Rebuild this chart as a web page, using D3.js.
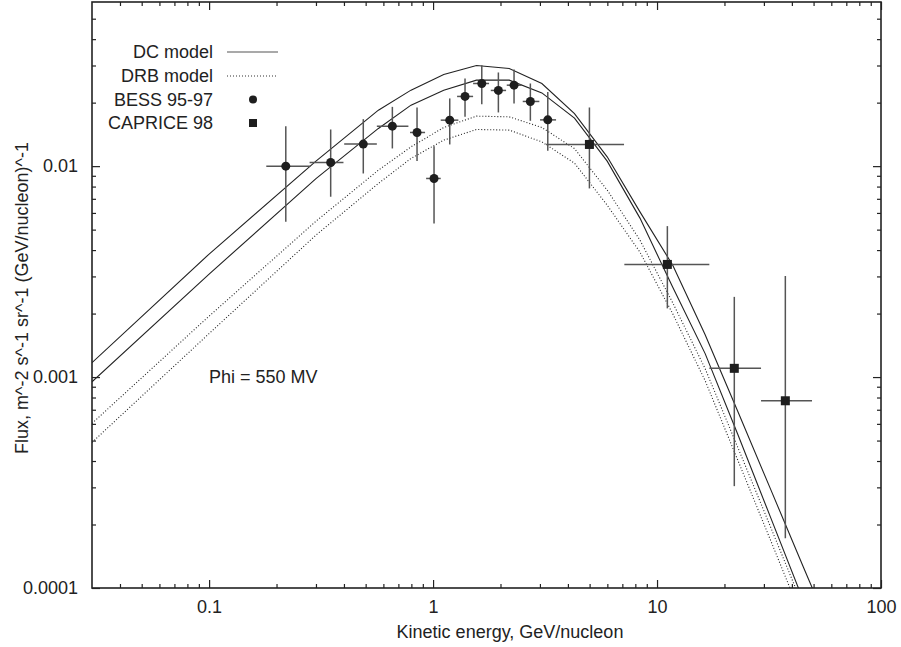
<!DOCTYPE html>
<html>
<head>
<meta charset="utf-8">
<script src="https://cdn.jsdelivr.net/npm/d3@7"></script>
<style>
  html, body { margin: 0; padding: 0; background: #fff; }
  svg text { font-family: "Liberation Sans", Arial, Helvetica, sans-serif; font-size: 18px; fill: #222; }
</style>
</head>
<body>
<svg id="chart" width="901" height="647"></svg>
<script>
// ---------------- data ----------------
const xTickLabels = ["0.1", "1", "10", "100"];
const xTickValues = [0.1, 1, 10, 100];
const yTickLabels = ["0.0001", "0.001", "0.01"];
const yTickValues = [0.0001, 0.001, 0.01];

// model energy grid (GeV/nucleon)
const modelE = [0.03, 0.1, 0.3, 0.57, 0.797, 1.116, 1.563, 2.188, 3.06, 4.28, 5.99, 8.39, 11.74, 16.4, 23.0, 32.2, 45.0, 63];
// DC model (two solid curves)
const dcUpper = [0.00117, 0.00383, 0.01056, 0.01842, 0.02292, 0.02720, 0.03001, 0.02904, 0.02465, 0.01773, 0.01107, 0.00607, 0.003395, 0.001586, 0.000683, 0.0002927, 0.0001258, 0.0000543];
const dcLower = [0.00095, 0.003077, 0.00872, 0.01509, 0.01946, 0.02292, 0.02557, 0.02557, 0.02225, 0.01689, 0.01056, 0.00567, 0.00267, 0.001292, 0.000531, 0.000215, 0.0000872, 0.0000355];
// DRB model (two dotted curves)
const drbUpper = [0.000603, 0.001946, 0.00548, 0.00957, 0.01234, 0.01525, 0.01726, 0.01713, 0.01525, 0.01211, 0.0077, 0.004459, 0.002254, 0.001096, 0.000461, 0.0001935, 0.0000813, 0.0000344];
const drbLower = [0.00049, 0.001608, 0.00471, 0.00828, 0.01088, 0.01328, 0.01492, 0.01482, 0.01303, 0.01033, 0.00653, 0.00391, 0.002, 0.000961, 0.000401, 0.0001674, 0.0000698, 0.0000292];

// BESS 95-97
const bessE    = [0.220, 0.349, 0.488, 0.658, 0.848, 1.010, 1.187, 1.389, 1.650, 1.957, 2.299, 2.719, 3.252];
const bessElo  = [0.180, 0.281, 0.401, 0.561, 0.789, 0.931, 1.082, 1.280, 1.509, 1.810, 2.133, 2.514, 3.004];
const bessEhi  = [0.283, 0.398, 0.561, 0.776, 0.921, 1.082, 1.297, 1.509, 1.778, 2.118, 2.489, 2.982, 3.541];
const bessF    = [0.0100, 0.01041, 0.01272, 0.01547, 0.01444, 0.00874, 0.01652, 0.02140, 0.02465, 0.02285, 0.0242, 0.02026, 0.01657];
const bessFlo  = [0.00545, 0.00716, 0.00923, 0.01213, 0.01059, 0.00535, 0.01267, 0.01713, 0.01967, 0.01797, 0.01982, 0.01640, 0.01182];
const bessFhi  = [0.01547, 0.01492, 0.01670, 0.0191, 0.01897, 0.01244, 0.02094, 0.02604, 0.03012, 0.0278, 0.02873, 0.02465, 0.02249];

// CAPRICE 98
const capE   = [4.99, 11.12, 22.13, 37.4];
const capElo = [3.196, 7.145, 17.12, 29.13];
const capEhi = [7.123, 17.12, 29.13, 49.2];
const capF   = [0.01267, 0.00342, 0.0011, 0.000772];
const capFlo = [0.00784, 0.002117, 0.000304, 0.000172];
const capFhi = [0.01897, 0.005196, 0.0024, 0.003012];

// ---------------- layout ----------------
const svg = d3.select("#chart");
const L = 92, R = 881, T = 2, B = 588;
const x = d3.scaleLog().domain([0.03, 100]).range([L, R]);
const y = d3.scaleLog().domain([0.0001, 0.06]).range([B, T]);
const ink = "#222";

svg.append("defs").append("clipPath").attr("id", "clip")
  .append("rect").attr("x", L).attr("y", T).attr("width", R - L).attr("height", B - T);

function minorTicks(domain) {
  const out = [];
  for (let e = -5; e <= 3; e++) {
    for (let m = 2; m <= 9; m++) {
      const v = m * Math.pow(10, e);
      if (v > domain[0] * 1.0001 && v < domain[1] * 0.9999) out.push(v);
    }
  }
  return out;
}
const xMinor = minorTicks(x.domain());
const yMinor = minorTicks(y.domain());

function styleAxis(g) {
  g.select(".domain").remove();
  g.selectAll(".tick line").attr("stroke", ink).attr("stroke-width", 1.2);
  g.selectAll(".tick text").attr("fill", ink).style("font-size", "18px")
    .style("font-family", '"Liberation Sans", Arial, sans-serif');
}

// bottom axis
svg.append("g").attr("transform", `translate(0,${B})`)
  .call(d3.axisBottom(x).tickValues(xTickValues).tickFormat((d, i) => xTickLabels[i]).tickSize(-8).tickPadding(12))
  .call(styleAxis);
svg.append("g").attr("transform", `translate(0,${B})`)
  .call(d3.axisBottom(x).tickValues(xMinor).tickFormat("").tickSize(-4))
  .call(styleAxis);
// top axis (mirror)
svg.append("g").attr("transform", `translate(0,${T})`)
  .call(d3.axisTop(x).tickValues(xTickValues).tickFormat("").tickSize(-8))
  .call(styleAxis);
svg.append("g").attr("transform", `translate(0,${T})`)
  .call(d3.axisTop(x).tickValues(xMinor).tickFormat("").tickSize(-4))
  .call(styleAxis);
// left axis
svg.append("g").attr("transform", `translate(${L},0)`)
  .call(d3.axisLeft(y).tickValues(yTickValues).tickFormat((d, i) => yTickLabels[i]).tickSize(-8).tickPadding(14))
  .call(styleAxis);
svg.append("g").attr("transform", `translate(${L},0)`)
  .call(d3.axisLeft(y).tickValues(yMinor).tickFormat("").tickSize(-4))
  .call(styleAxis);
// right axis (mirror)
svg.append("g").attr("transform", `translate(${R},0)`)
  .call(d3.axisRight(y).tickValues(yTickValues).tickFormat("").tickSize(-8))
  .call(styleAxis);
svg.append("g").attr("transform", `translate(${R},0)`)
  .call(d3.axisRight(y).tickValues(yMinor).tickFormat("").tickSize(-4))
  .call(styleAxis);

// frame
svg.append("rect").attr("x", L).attr("y", T).attr("width", R - L).attr("height", B - T)
  .attr("fill", "none").attr("stroke", ink).attr("stroke-width", 1.6);

// axis titles
svg.append("text").attr("x", 510).attr("y", 638).attr("text-anchor", "middle")
  .text("Kinetic energy, GeV/nucleon");
svg.append("text").attr("transform", "translate(28,298) rotate(-90)").attr("text-anchor", "middle")
  .text("Flux, m^-2 s^-1 sr^-1 (GeV/nucleon)^-1");

// ---------------- curves ----------------
const plot = svg.append("g").attr("clip-path", "url(#clip)");
const line = d3.line().x(d => x(d[0])).y(d => y(d[1]));
const curves = [
  { vals: dcUpper, dash: null },
  { vals: dcLower, dash: null },
  { vals: drbUpper, dash: "1,2" },
  { vals: drbLower, dash: "1,2" }
];
curves.forEach(c => {
  plot.append("path")
    .datum(modelE.map((e, i) => [e, c.vals[i]]))
    .attr("d", line)
    .attr("fill", "none")
    .attr("stroke", "#222")
    .attr("stroke-width", 1.1)
    .attr("stroke-dasharray", c.dash);
});

// ---------------- error bars & markers ----------------
const barColor = "#555";
function drawSeries(E, Elo, Ehi, F, Flo, Fhi, shape) {
  const g = plot.append("g");
  E.forEach((e, i) => {
    g.append("line").attr("x1", x(Elo[i])).attr("x2", x(Ehi[i])).attr("y1", y(F[i])).attr("y2", y(F[i]))
      .attr("stroke", barColor).attr("stroke-width", 1.5);
    g.append("line").attr("x1", x(e)).attr("x2", x(e)).attr("y1", y(Flo[i])).attr("y2", y(Fhi[i]))
      .attr("stroke", barColor).attr("stroke-width", 1.5);
  });
  if (shape === "circle") {
    g.selectAll("circle.m").data(E).enter().append("circle")
      .attr("cx", (d) => x(d)).attr("cy", (d, i) => y(F[i])).attr("r", 4.5).attr("fill", "#1e1e1e");
  } else {
    g.selectAll("rect.m").data(E).enter().append("rect")
      .attr("x", (d) => x(d) - 4.5).attr("y", (d, i) => y(F[i]) - 4.5)
      .attr("width", 9).attr("height", 9).attr("fill", "#1e1e1e");
  }
}
drawSeries(bessE, bessElo, bessEhi, bessF, bessFlo, bessFhi, "circle");
drawSeries(capE, capElo, capEhi, capF, capFlo, capFhi, "square");

// ---------------- legend ----------------
const legendItems = ["DC model", "DRB model", "BESS 95-97", "CAPRICE 98"];
const legY = [52, 76, 99.5, 123];
const lg = svg.append("g");
legendItems.forEach((t, i) => {
  lg.append("text").attr("x", 213).attr("y", legY[i]).attr("dy", "0.35em")
    .attr("text-anchor", "end").text(t);
});
lg.append("line").attr("x1", 227).attr("x2", 278).attr("y1", legY[0]).attr("y2", legY[0])
  .attr("stroke", "#555").attr("stroke-width", 1.2);
lg.append("line").attr("x1", 227).attr("x2", 278).attr("y1", legY[1]).attr("y2", legY[1])
  .attr("stroke", "#333").attr("stroke-width", 1.1).attr("stroke-dasharray", "1,2");
lg.append("circle").attr("cx", 253).attr("cy", legY[2]).attr("r", 4).attr("fill", "#1e1e1e");
lg.append("rect").attr("x", 249).attr("y", legY[3] - 4).attr("width", 8).attr("height", 8).attr("fill", "#1e1e1e");

// annotation
svg.append("text").attr("x", 209).attr("y", 377).attr("dy", "0.35em").text("Phi = 550 MV");
</script>
</body>
</html>
